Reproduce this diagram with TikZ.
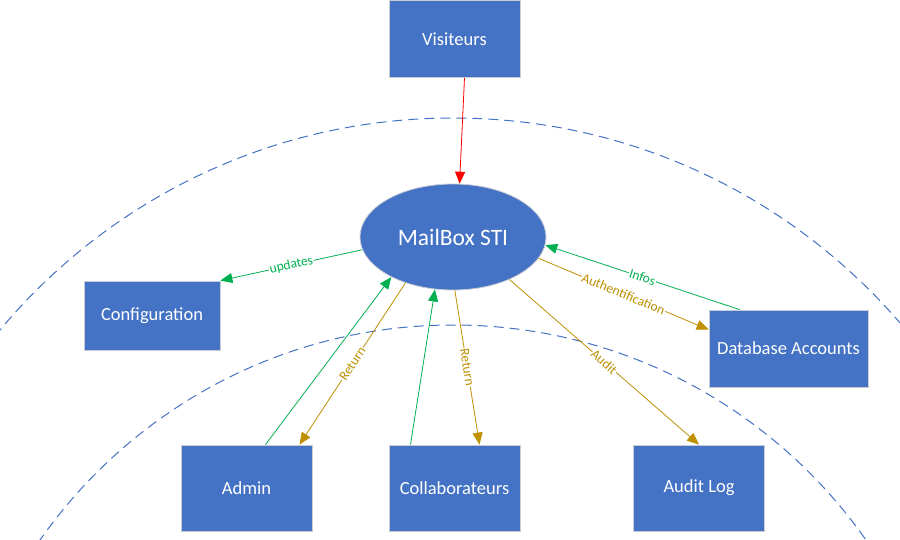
\documentclass[tikz,border=0pt]{standalone}
\usepackage{fontspec}
\setmainfont{Carlito}
\usetikzlibrary{arrows.meta,shapes.geometric,calc}
\definecolor{boxblue}{HTML}{4472C4}
\definecolor{arrgreen}{HTML}{00B050}
\definecolor{arrgold}{HTML}{BF9000}
\definecolor{boxedge}{HTML}{C8CCD4}
\begin{document}
\begin{tikzpicture}[x=1pt,y=-1pt,
  entity/.style={rectangle, fill=boxblue, draw=boxedge, line width=0.8pt, text=white,
    font=\fontsize{18.5}{22}\selectfont, inner sep=0pt},
  flow/.style={line width=0.8pt, -{Triangle[length=12pt,width=10pt]}},
  lbl/.style={sloped, fill=white, inner sep=0.8pt, font=\fontsize{13.5}{15}\selectfont},
  orbit/.style={draw=boxblue, dash pattern=on 10pt off 6pt, line width=1pt}]
\fill[white] (0,0) rectangle (900,540);
\useasboundingbox (0,0) rectangle (900,540);
\begin{scope}
  \clip (0,0) rectangle (900,540);
  \draw[orbit] (453,708) circle[radius=590];
  \draw[orbit] (453,829) circle[radius=504];
\end{scope}

\node[entity, minimum width=131pt, minimum height=77pt] (vis) at (454.5,39) {Visiteurs};
\node[entity, minimum width=136pt, minimum height=69pt] (conf) at (152,315.5) {Configuration};
\node[entity, minimum width=159pt, minimum height=77pt] (db) at (788.5,348.5) {Database Accounts};
\node[entity, minimum width=131pt, minimum height=86pt] (admin) at (246.5,488) {Admin};
\node[entity, minimum width=131pt, minimum height=86pt] (collab) at (454.5,488) {Collaborateurs};
\node[entity, minimum width=131pt, minimum height=86pt] (audit) at (699,488) {Audit Log};
\node[ellipse, fill=boxblue, draw=boxedge, line width=0.8pt, minimum width=186pt, minimum height=106pt,
  inner sep=0pt, text=white, font=\fontsize{23.5}{28}\selectfont] (mb) at (453,237) {MailBox STI};

\draw[flow, red] ($(vis.south)+(10,0)$) -- (mb.83);
\draw[flow, arrgreen] (mb.188) -- node[lbl]{updates} (conf.north east);
\draw[flow, arrgreen] ($(admin.north)+(19,0)$) -- (mb.213);
\draw[flow, arrgold] (mb.224) -- node[lbl]{Return} ($(admin.north)+(53,0)$);
\draw[flow, arrgreen] ($(collab.north)+(-44,0)$) -- (mb.251);
\draw[flow, arrgold] (mb.272) -- node[lbl]{Return} ($(collab.north)+(25,0)$);
\draw[flow, arrgold] (mb.323) -- node[lbl]{Audit} (audit.north);
\draw[flow, arrgold] (mb.346) -- node[lbl]{Authentification} ($(db.north west)+(0,20)$);
\draw[flow, arrgreen] ($(db.north west)+(31,0)$) -- node[lbl]{Infos} (mb.355);
\end{tikzpicture}
\end{document}
